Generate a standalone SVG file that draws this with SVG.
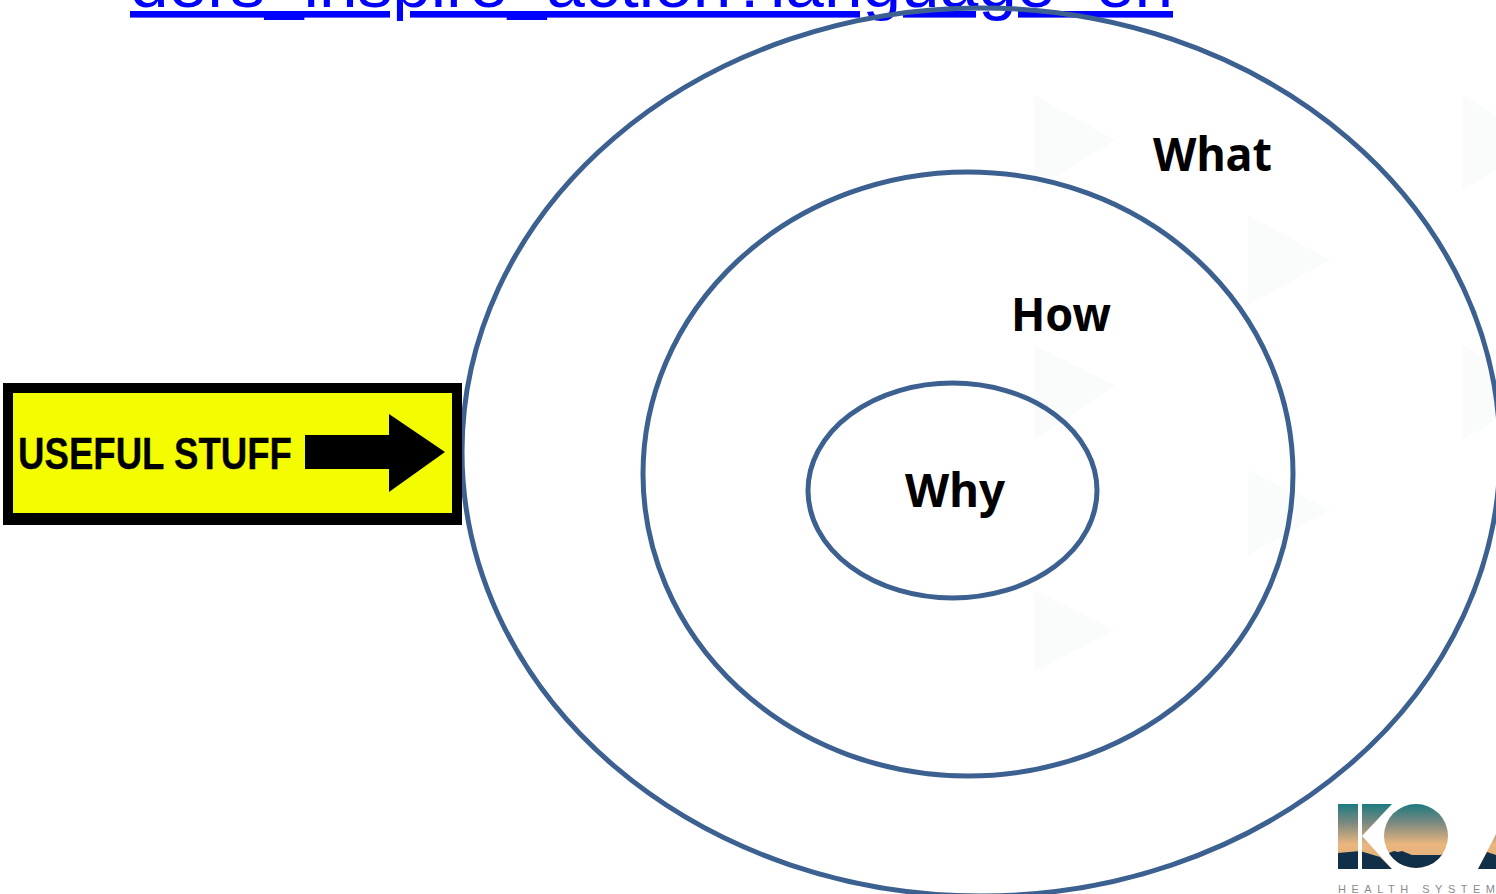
<svg xmlns="http://www.w3.org/2000/svg" width="1496" height="894" viewBox="0 0 1496 894">
<style>
.ring{fill:none;stroke:#3c6090;stroke-width:5}
.lbl{font-family:"Noto Sans","Open Sans",sans-serif;font-weight:700;font-size:46px;fill:#000}
.wm{fill:#fafbfb}
.dark{fill:#10304a}
</style>
<defs>
<linearGradient id="sky" x1="0" y1="804" x2="0" y2="869" gradientUnits="userSpaceOnUse">
<stop offset="0" stop-color="#1c7a80"/><stop offset="0.3" stop-color="#7f8a80"/><stop offset="0.62" stop-color="#eab67e"/><stop offset="1" stop-color="#e0ad7a"/>
</linearGradient>
<clipPath id="oClip"><circle cx="1416" cy="836" r="32"/></clipPath>
<clipPath id="kClip"><path d="M1338 804H1358V869H1338Z M1362 804H1392L1362 836L1392 869H1362Z"/></clipPath>
</defs>
<rect width="1496" height="894" fill="#fff"/>
<g id="watermark">
<path class="wm" d="M1034 95L1115 140L1034 190Z"/>
<path class="wm" d="M1034 345L1115 385L1034 440Z"/>
<path class="wm" d="M1034 590L1115 630L1034 672Z"/>
<path class="wm" d="M1248 215L1330 260L1248 305Z"/>
<path class="wm" d="M1248 470L1330 510L1248 555Z"/>
<path class="wm" d="M1462 95L1496 115L1496 170L1462 190Z"/>
<path class="wm" d="M1462 345L1496 365L1496 420L1462 440Z"/>
</g>
<g id="url">
<text x="130" y="7" font-family="'Liberation Sans',Arial,sans-serif" font-size="66" fill="#0000ff" text-decoration="underline" textLength="1043" lengthAdjust="spacingAndGlyphs">ders_inspire_action?language=en</text>
</g>
<g id="what-ring"><ellipse class="ring" cx="981" cy="452" rx="519" ry="444"/><text class="lbl" x="1153" y="171" textLength="119" lengthAdjust="spacingAndGlyphs">What</text></g>
<g id="how-ring"><ellipse class="ring" cx="968" cy="474" rx="325" ry="302"/><text class="lbl" x="1011" y="331" textLength="100" lengthAdjust="spacingAndGlyphs">How</text></g>
<g id="why-ring"><ellipse class="ring" cx="952.500" cy="490.500" rx="144.500" ry="107.500"/><text class="lbl" x="905" y="507" textLength="100" lengthAdjust="spacingAndGlyphs">Why</text></g>
<g id="useful-stuff-sign">
<rect x="3" y="383" width="459" height="142" fill="#000"/>
<rect x="13" y="393" width="439" height="120" fill="#f3fc00"/>
<text x="18" y="469" font-family="'Liberation Sans',Arial,sans-serif" font-weight="700" font-size="45" fill="#000" stroke="#000" stroke-width="0.300" textLength="274" lengthAdjust="spacingAndGlyphs">USEFUL STUFF</text>
<path d="M305 435H389V414L445 452L389 492V469H305Z" fill="#000"/>
</g>
<g id="logo">
<path d="M1338 804H1358V869H1338Z M1362 804H1392L1362 836L1392 869H1362Z" fill="url(#sky)"/>
<path class="dark" clip-path="url(#kClip)" d="M1338 853L1360 851L1380 857L1392 869H1338Z"/>
<circle cx="1416" cy="836" r="32" fill="url(#sky)"/>
<path class="dark" clip-path="url(#oClip)" d="M1384 855L1394 851L1398 852L1402 851L1412 855L1440 855L1450 852V869H1384Z"/>
<path d="M1478 869L1496 834V869Z" fill="url(#sky)"/>
<path class="dark" d="M1478 869L1487 852L1496 855V869Z"/>
<text x="1338" y="893" font-family="'Liberation Sans',Arial,sans-serif" font-size="11" fill="#8a8a8a" textLength="157">HEALTH SYSTEM</text>
</g>
<g id="connectors"></g>
</svg>
